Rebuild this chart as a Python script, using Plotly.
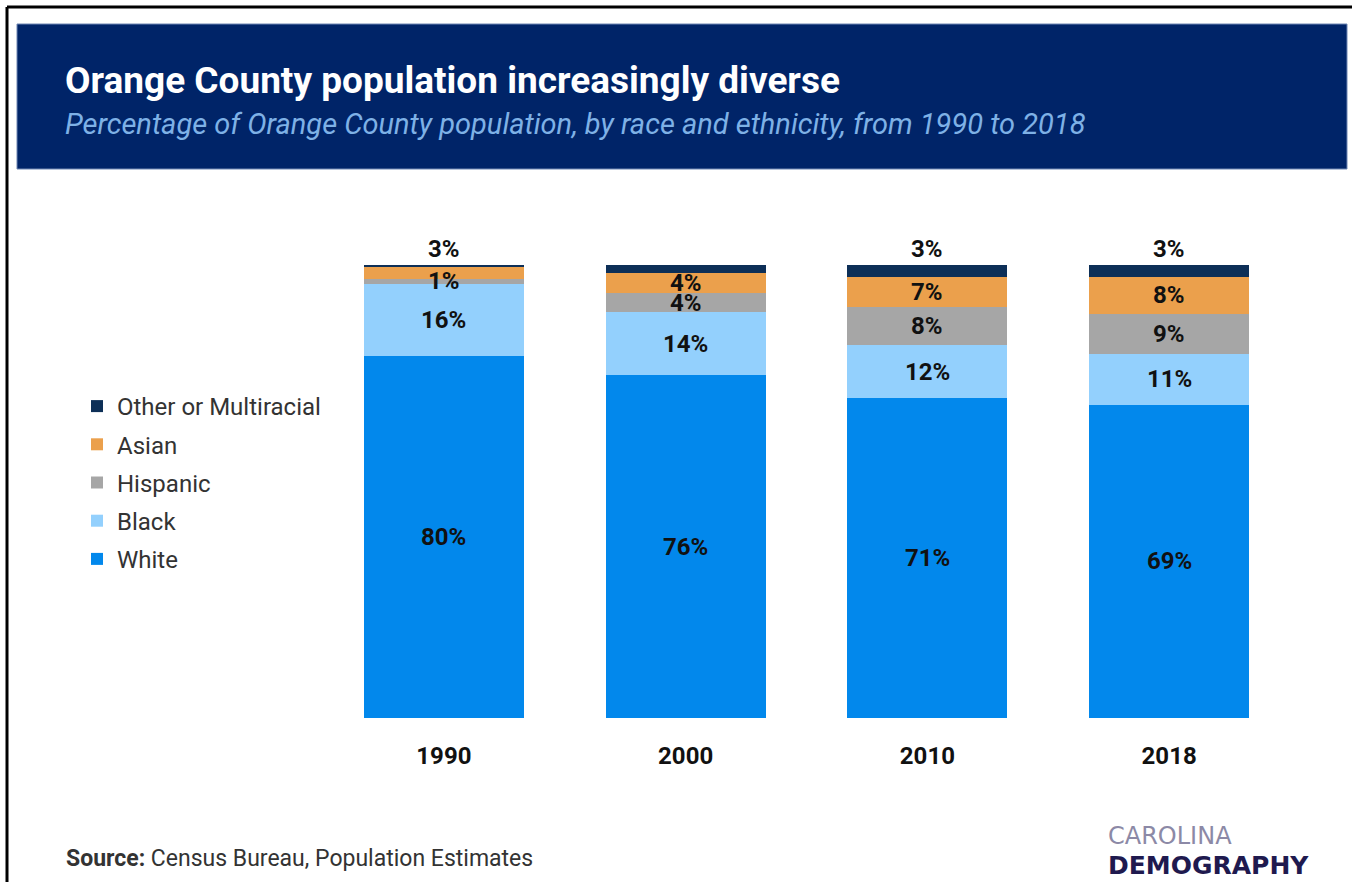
import plotly.graph_objects as go

W, H = 1352, 882

years = ["1990", "2000", "2010", "2018"]

white = [80.0, 75.7, 70.6, 69.1]
black = [15.9, 13.9, 11.7, 11.3]
hispanic = [1.1, 4.2, 8.4, 8.8]
asian = [2.6, 4.4, 6.6, 8.2]
other = [0.4, 1.8, 2.7, 2.6]

white_lbl = ["80%", "76%", "71%", "69%"]
black_lbl = ["16%", "14%", "12%", "11%"]
hispanic_lbl = ["1%", "4%", "8%", "9%"]
asian_lbl = ["", "4%", "7%", "8%"]
other_lbl = ["3%", "2%", "3%", "3%"]

series = [
    ("White", white, white_lbl, "#0288ec", 5),
    ("Black", black, black_lbl, "#93d0fd", 4),
    ("Hispanic", hispanic, hispanic_lbl, "#a6a6a6", 3),
    ("Asian", asian, asian_lbl, "#eba04c", 2),
    ("Other or Multiracial", other, other_lbl, "#0d2f57", 1),
]

LABEL_FONT = dict(family="Roboto", size=24, color="#111111", weight=700)


def px_x(v):
    return v / W


def px_y(v):
    return 1 - v / H


fig = go.Figure()

base = [0.0] * len(years)
for name, vals, lbls, color, rank in series:
    fig.add_trace(go.Bar(
        x=years, y=vals, name=name,
        marker=dict(color=color, line=dict(width=0)),
        legendgroup=name,
        legendrank=rank,
        hoverinfo="name+y",
    ))
    # segment labels go on top of every bar layer, like the original
    for i, (v, lbl) in enumerate(zip(vals, lbls)):
        if not lbl:
            continue
        if name == "Other or Multiracial":
            fig.add_annotation(x=i, y=base[i] + v, text=lbl, showarrow=False,
                               yanchor="bottom", font=LABEL_FONT)
        else:
            fig.add_annotation(x=i, y=base[i] + v / 2, text=lbl, showarrow=False,
                               yanchor="middle", font=LABEL_FONT)
    base = [b + v for b, v in zip(base, vals)]

# header band
fig.add_shape(type="rect", xref="paper", yref="paper",
              x0=px_x(17), x1=px_x(1347), y0=px_y(169), y1=px_y(24),
              fillcolor="#002468", line=dict(color="#6f86b3", width=1), layer="below")
# frame lines
fig.add_shape(type="line", xref="paper", yref="paper",
              x0=px_x(7), x1=1, y0=px_y(7), y1=px_y(7), line=dict(color="#000000", width=3))
fig.add_shape(type="line", xref="paper", yref="paper",
              x0=px_x(7), x1=px_x(7), y0=0, y1=px_y(7), line=dict(color="#000000", width=3))

fig.add_annotation(xref="paper", yref="paper", x=px_x(63), y=px_y(80), xanchor="left", yanchor="middle",
                   text="Orange County population increasingly diverse", showarrow=False,
                   font=dict(family="Roboto", size=37, color="#ffffff", weight=700))
fig.add_annotation(xref="paper", yref="paper", x=px_x(63), y=px_y(124), xanchor="left", yanchor="middle",
                   text="Percentage of Orange County population, by race and ethnicity, from 1990 to 2018",
                   showarrow=False,
                   font=dict(family="Roboto", size=29, color="#7eb1e6", style="italic"))
fig.add_annotation(xref="paper", yref="paper", x=px_x(64), y=px_y(858), xanchor="left", yanchor="middle",
                   text="<b>Source:</b> Census Bureau, Population Estimates", showarrow=False,
                   font=dict(family="Roboto", size=23, color="#333333"))
fig.add_annotation(xref="paper", yref="paper", x=px_x(1106), y=px_y(836), xanchor="left", yanchor="middle",
                   text="CAROLINA", showarrow=False,
                   font=dict(family="DejaVu Sans", size=24, color="#8c89a6"))
fig.add_annotation(xref="paper", yref="paper", x=px_x(1106), y=px_y(865), xanchor="left", yanchor="middle",
                   text="DEMOGRAPHY", showarrow=False,
                   font=dict(family="DejaVu Sans", size=25, color="#1f1a4f", weight=700))

fig.update_layout(
    width=W, height=H,
    margin=dict(l=0, r=0, t=0, b=0, autoexpand=False),
    paper_bgcolor="#ffffff", plot_bgcolor="#ffffff",
    barmode="stack", bargap=0.338,
    showlegend=True,
    legend=dict(x=px_x(77), y=px_y(384), xanchor="left", yanchor="top",
                traceorder="grouped", tracegroupgap=4, itemwidth=30,
                font=dict(family="Roboto", size=24, color="#333333")),
    xaxis=dict(type="category", range=[-0.5, len(years) - 0.5], domain=[px_x(323), px_x(1290)],
               showgrid=False, showline=False, zeroline=False, ticks="", automargin=False,
               ticklabelstandoff=21,
               tickfont=dict(family="Roboto", size=24, color="#111111", weight=700)),
    yaxis=dict(domain=[px_y(718), px_y(265)], range=[0, 100], visible=False),
)

fig.write_html("out.html", config={"displayModeBar": False},
               post_script="document.body.style.margin='0';")
